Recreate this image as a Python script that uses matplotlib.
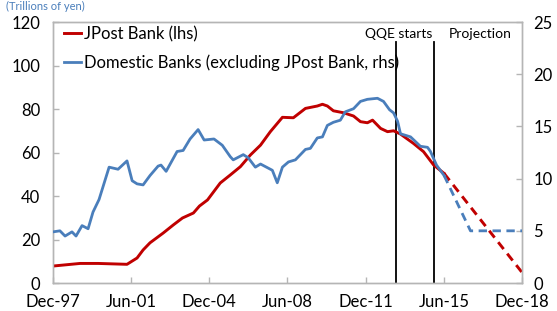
import matplotlib
matplotlib.use("Agg")
import matplotlib.pyplot as plt

plt.rcParams['font.family'] = ['Lato', 'DejaVu Sans']

# ---- data (decimal years) ----
jp_t = [1997.93, 1999.14, 1999.95, 2001.24, 2001.69, 2001.96, 2002.27, 2002.86, 2003.31,
        2003.72, 2004.21, 2004.48, 2004.84, 2005.41, 2005.86, 2006.31, 2006.76, 2007.21,
        2007.65, 2008.19, 2008.68, 2009.22, 2009.75, 2009.98, 2010.20, 2010.47, 2010.92,
        2011.37, 2011.68, 2011.99, 2012.22, 2012.58, 2012.89, 2013.16, 2013.47, 2014.05,
        2014.50, 2014.95, 2015.42]
jp_v = [7.8, 9.0, 9.0, 8.6, 11.5, 15.2, 18.5, 23.0, 26.7,
        29.9, 32.2, 35.4, 38.2, 46.0, 49.7, 53.5, 58.9, 63.4,
        69.6, 76.2, 76.0, 80.3, 81.4, 82.2, 81.4, 79.2, 78.3,
        76.8, 74.2, 73.7, 74.9, 71.1, 69.6, 70.0, 68.5, 64.2,
        60.4, 54.3, 50.4]
jp_proj_t = [2015.42, 2018.917]
jp_proj_v = [50.4, 4.7]

db_t = [1997.93, 1998.24, 1998.47, 1998.78, 1998.96, 1999.23, 1999.50, 1999.72, 1999.99,
        2000.44, 2000.84, 2001.24, 2001.47, 2001.69, 2001.96, 2002.27, 2002.63, 2002.76,
        2002.99, 2003.48, 2003.75, 2004.06, 2004.42, 2004.69, 2005.13, 2005.50, 2005.86,
        2005.99, 2006.44, 2006.66, 2006.98, 2007.21, 2007.74, 2007.96, 2008.19, 2008.46,
        2008.77, 2009.22, 2009.44, 2009.75, 2009.98, 2010.20, 2010.47, 2010.78, 2011.00,
        2011.37, 2011.68, 2011.99, 2012.44, 2012.71, 2012.98, 2013.16, 2013.34, 2013.47,
        2013.92, 2014.36, 2014.68, 2014.81, 2015.08, 2015.42]
db_v = [4.9, 5.0, 4.5, 4.9, 4.5, 5.5, 5.2, 6.8, 8.0,
        11.1, 10.9, 11.7, 9.8, 9.5, 9.4, 10.3, 11.2, 11.3,
        10.7, 12.6, 12.7, 13.8, 14.7, 13.7, 13.8, 13.2, 12.1,
        11.8, 12.3, 12.0, 11.1, 11.4, 10.8, 9.6, 11.1, 11.6,
        11.8, 12.8, 12.9, 13.9, 14.0, 15.1, 15.4, 15.6, 16.4,
        16.7, 17.4, 17.6, 17.7, 17.4, 16.6, 16.3, 15.5, 14.3,
        14.0, 13.1, 13.0, 12.6, 11.3, 10.3]
db_proj_t = [2015.42, 2016.60, 2018.917]
db_proj_v = [10.3, 5.0, 5.0]

qqe_lines = [2013.28, 2014.96]

x_ticks = [1997.917, 2001.417, 2004.917, 2008.417, 2011.917, 2015.417, 2018.917]
x_labels = ["Dec-97", "Jun-01", "Dec-04", "Jun-08", "Dec-11", "Jun-15", "Dec-18"]
left_ticks = [0, 20, 40, 60, 80, 100, 120]
right_ticks = [0, 5, 10, 15, 20, 25]

red = "#C00000"
blue = "#4A7EBB"
grey = "#B5B5B5"
fs = 12

fig = plt.figure(figsize=(5.57, 3.11), dpi=100)
ax = fig.add_axes([0.0946, 0.090, 0.8431, 0.839])
ax2 = ax.twinx()

ax.plot(jp_t, jp_v, color=red, lw=2.1, solid_joinstyle='round', label="JPost Bank (lhs)", zorder=3)
ax.plot(jp_proj_t, jp_proj_v, color=red, lw=2.1, dashes=(3, 2), zorder=3)
ax2.plot(db_t, db_v, color=blue, lw=2.0, solid_joinstyle='round',
         label="Domestic Banks (excluding JPost Bank, rhs)", zorder=3)
ax2.plot(db_proj_t, db_proj_v, color=blue, lw=2.0, dashes=(3, 2), zorder=3)

for q in qqe_lines:
    ax.axvline(q, ymin=0, ymax=0.923, color="black", lw=1.3, zorder=2)

ax.set_xlim(x_ticks[0], x_ticks[-1])
ax.set_ylim(0, 120)
ax2.set_ylim(0, 25)
ax.set_xticks(x_ticks)
ax.set_xticklabels(x_labels, fontsize=fs)
ax.set_yticks(left_ticks)
ax.set_yticklabels([str(v) for v in left_ticks], fontsize=fs)
ax2.set_yticks(right_ticks)
ax2.set_yticklabels([str(v) for v in right_ticks], fontsize=fs)

for a in (ax, ax2):
    for s in a.spines.values():
        s.set_color(grey)
        s.set_linewidth(1.0)
    a.tick_params(direction='in', length=4, color=grey, width=1.0, labelcolor="black")
ax.tick_params(axis='x', pad=8)
ax.tick_params(axis='y', pad=9)
ax2.tick_params(axis='y', pad=8)

ax.text(2013.40, 114.5, "QQE starts", fontsize=10, ha='center', va='center')
ax.text(2017.05, 114.5, "Projection", fontsize=10, ha='center', va='center')

h1, l1 = ax.get_legend_handles_labels()
h2, l2 = ax2.get_legend_handles_labels()
leg = ax2.legend(h1 + h2, l1 + l2, loc='upper left', bbox_to_anchor=(0.0, 1.03),
                 frameon=False, fontsize=fs, handlelength=1.0, handletextpad=0.15,
                 labelspacing=0.75, borderaxespad=0.3)

fig.text(0.01, 0.997, "(Trillions of yen)", fontsize=8, color=blue, ha='left', va='top')

fig.savefig("out.png", dpi=100)
